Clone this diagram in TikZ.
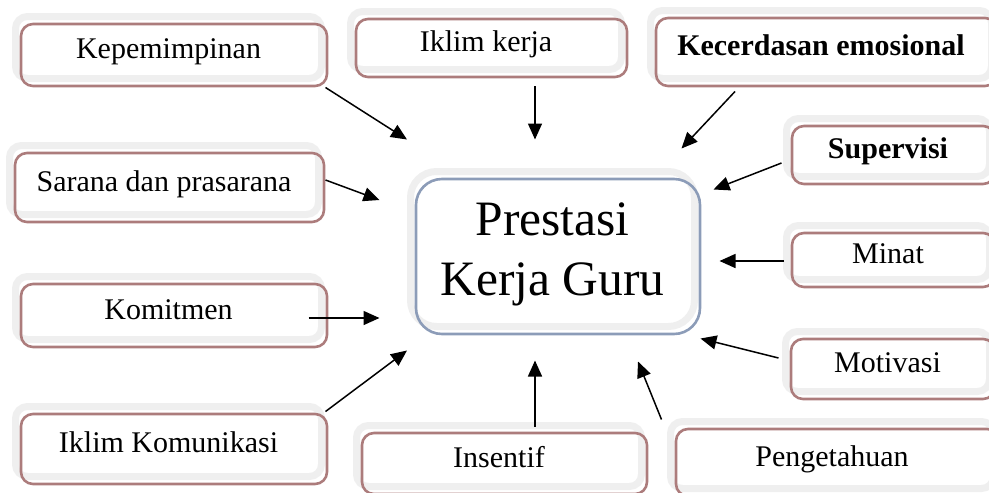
\documentclass[tikz,border=0pt]{standalone}
\usepackage{fontspec}
\setmainfont{Liberation Serif}
\usepackage{tikz}
\usetikzlibrary{positioning,arrows.meta,calc}
\definecolor{boxrim}{RGB}{239,239,239}
\definecolor{redshade}{RGB}{172,124,124}
\definecolor{blueshade}{RGB}{140,156,184}

\begin{document}
\begin{tikzpicture}[x=1pt, y=-1pt,
  factor/.style={draw=boxrim, line width=7pt, fill=white, rounded corners=12pt, inner sep=0pt,
    font=\fontsize{30}{36}\selectfont, text height=22pt, text depth=0pt,
    postaction={draw=redshade, fill=none, line width=2.6pt, transform canvas={shift={(5.5pt,-7.5pt)}}}},
  result/.style={draw=boxrim, line width=7pt, fill=white, rounded corners=26pt, inner sep=0pt,
    align=center, font=\fontsize{49.5}{60}\selectfont, text depth=0pt,
    postaction={draw=blueshade, fill=none, line width=2.6pt, transform canvas={shift={(5.5pt,-7.5pt)}}}},
  arr/.style={-{Triangle[length=16pt,width=14pt]}, line width=1.5pt}]
\useasboundingbox (0,0) rectangle (989,493);
\clip (0,0) rectangle (989,493);

% Center
\node[result, minimum width=284pt, minimum height=155pt] (prestasi) at (552.5,249) {Prestasi\\Kerja Guru};

% Left column
\node[factor, minimum width=306pt, minimum height=62pt] (kep) at (168.5,47.5) {Kepemimpinan};
\node[factor, minimum width=309pt, minimum height=69pt] (sarana) at (164,180) {Sarana dan prasarana};
\node[factor, minimum width=306pt, minimum height=63pt] (komit) at (168.5,308) {Komitmen};
\node[factor, minimum width=306pt, minimum height=70pt] (iklimkom) at (168.5,441.5) {Iklim Komunikasi};

% Top and bottom
\node[factor, minimum width=271pt, minimum height=58pt] (iklimk) at (486,40.5) {Iklim kerja};
\node[factor, minimum width=341pt, minimum height=68pt] (kecer) at (821,44.5) {\textbf{Kecerdasan emosional}};
\node[factor, minimum width=285pt, minimum height=61pt] (insent) at (499,456) {Insentif};
\node[factor, minimum width=323pt, minimum height=67pt] (penget) at (832,455) {Pengetahuan};

% Right column
\node[factor, minimum width=203pt, minimum height=58pt] (superv) at (888,147.5) {\textbf{Supervisi}};
\node[factor, minimum width=203pt, minimum height=54pt] (minat) at (888,252.5) {Minat};
\node[factor, minimum width=204pt, minimum height=60pt] (motiv) at (887.5,361.5) {Motivasi};

% Arrows
\draw[arr] ($(kep.south east)+(0.5,5.5)$) -- ($(prestasi.north west)+(0,-28.5)$);
\draw[arr] ($(iklimk.south)+(49,13)$) -- ($(prestasi.north)+(-17.5,-28.5)$);
\draw[arr] ($(kecer.south)+(-86,9.5)$) -- ($(prestasi.north east)+(-16.5,-19.5)$);
\draw[arr] ($(superv.west)+(-1.5,15.5)$) -- ($(prestasi.north east)+(15.5,21.5)$);
\draw[arr] ($(minat.west)+(1,8.5)$) -- ($(prestasi.east)+(21.5,12)$);
\draw[arr] ($(motiv.west)+(-3.5,-3.5)$) -- ($(prestasi.south east)+(2.5,8.5)$);
\draw[arr] ($(sarana.east)+(3.5,0)$) -- ($(prestasi.west)+(-27.5,-49)$);
\draw[arr] ($(komit.east)+(-16.5,10)$) -- ($(prestasi.west)+(-27.5,69)$);
\draw[arr] ($(iklimkom.north east)+(0.5,8.5)$) -- ($(prestasi.south west)+(0,20.5)$);
\draw[arr] ($(insent.north)+(36,4.5)$) -- ($(prestasi.south)+(-17.5,30.5)$);
\draw[arr] ($(penget.north west)+(-5.5,1.5)$) -- ($(prestasi.south)+(85.5,31.5)$);

\end{tikzpicture}
\end{document}
